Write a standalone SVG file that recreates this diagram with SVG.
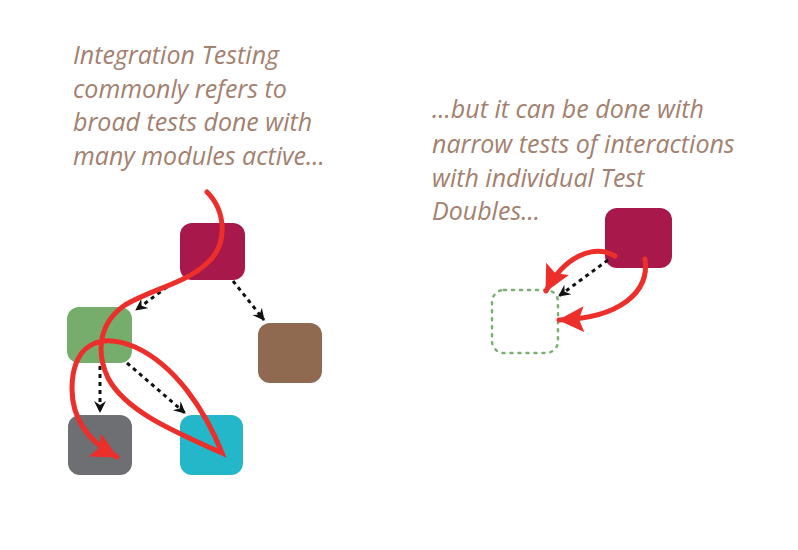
<svg xmlns="http://www.w3.org/2000/svg" width="798" height="550" viewBox="0 0 798 550">
<style>
.txt{font-family:"Open Sans","Noto Sans",sans-serif;font-style:italic;font-size:25px;fill:#a3806f}
.dash{fill:none;stroke:#111;stroke-width:3;stroke-dasharray:4 4}
.red{fill:none;stroke:#ec2f2b;stroke-width:5;stroke-linecap:round}
</style>
<defs>
<marker id="ah" markerUnits="userSpaceOnUse" markerWidth="14" markerHeight="14" refX="11" refY="6" orient="auto">
<path d="M0,0 L12,6 L0,12 L4,6 z" fill="#111"/>
</marker>
<marker id="rh" markerUnits="userSpaceOnUse" markerWidth="30" markerHeight="28" refX="25" refY="13" orient="auto">
<path d="M0,0 L26,13 L0,26 L5,13 z" fill="#ec2f2b"/>
</marker>
</defs>
<rect width="798" height="550" fill="#fff"/>
<g id="text-left" class="txt">
<text x="73" y="64">Integration Testing</text>
<text x="73" y="98">commonly refers to</text>
<text x="73" y="131">broad tests done with</text>
<text x="73" y="165">many modules active...</text>
</g>
<g id="text-right" class="txt">
<text x="432" y="118">...but it can be done with</text>
<text x="432" y="153">narrow tests of interactions</text>
<text x="432" y="187">with individual Test</text>
<text x="432" y="220">Doubles...</text>
</g>
<g id="node-top"><rect x="180" y="223" width="65" height="57" rx="12" fill="#a8184b"/></g>
<g id="node-green"><rect x="67" y="307" width="65" height="56" rx="12" fill="#76ad6c"/></g>
<g id="node-brown"><rect x="258" y="323" width="64" height="60" rx="12" fill="#8f6a50"/></g>
<g id="node-gray"><rect x="68" y="415" width="64" height="60" rx="12" fill="#6d6f72"/></g>
<g id="node-cyan"><rect x="180" y="415" width="63" height="60" rx="12" fill="#24b6c9"/></g>
<g id="node-right"><rect x="605" y="208" width="67" height="60" rx="12" fill="#a8184b"/></g>
<g id="node-double"><rect x="492" y="290" width="66" height="63" rx="12" fill="none" stroke="#79b26f" stroke-width="2.5" stroke-dasharray="2 6" stroke-linecap="round"/></g>
<g id="connectors">
<path class="dash" d="M167,287 L136,310" marker-end="url(#ah)"/>
<path class="dash" d="M233,281 L264,320" marker-end="url(#ah)"/>
<path class="dash" d="M100,366 L100,412" marker-end="url(#ah)"/>
<path class="dash" d="M127,363 L185,413" marker-end="url(#ah)"/>
<path class="dash" d="M608,260 L559,296" marker-end="url(#ah)"/>
<path class="red" d="M207,192 C225,210 230,245 205,265 C185,283 150,290 125,305 C100,322 95,350 108,378 C125,410 170,430 222,453 C205,410 175,365 135,347 C100,332 78,345 73,375 C68,410 82,438 117,457" marker-end="url(#rh)"/>
<path class="red" d="M615,256 C595,244 565,255 546,291" marker-end="url(#rh)"/>
<path class="red" d="M645,259 C650,292 620,318 559,320" marker-end="url(#rh)"/>
</g>
</svg>
